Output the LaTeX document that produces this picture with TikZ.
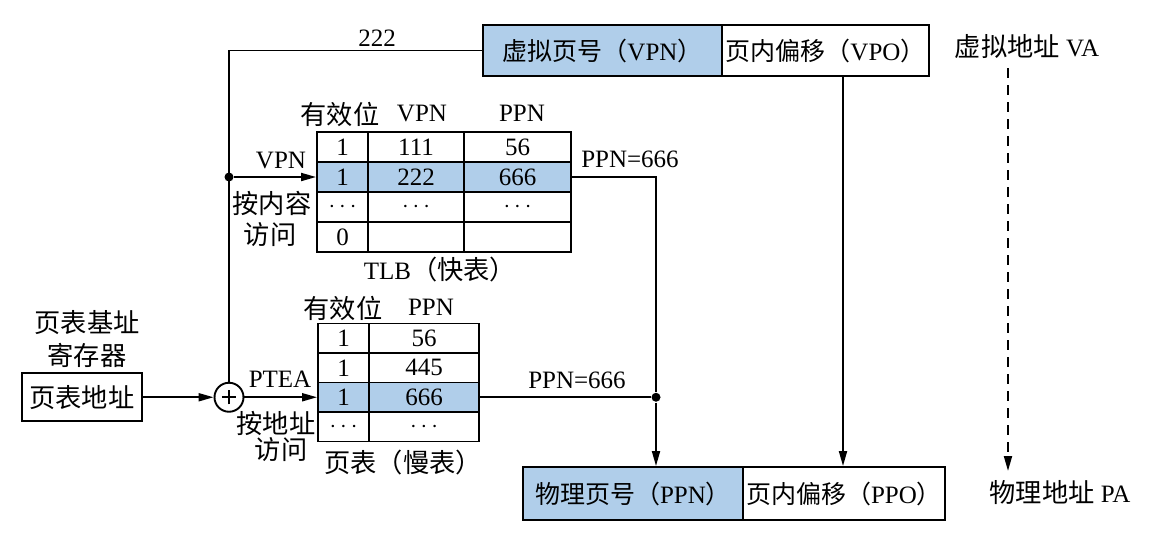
\documentclass[tikz,border=0pt]{standalone}
\usepackage{fontspec}
\setmainfont{Liberation Serif}
\newfontfamily\cjk[Scale=1.05]{Noto Sans CJK SC}
\newfontfamily\cjkb{Noto Sans CJK SC}
\newcommand\zh[1]{{\cjk #1}}
\newcommand\zb[1]{{\cjkb #1}}
\newcommand\dotsx{$\cdots$}
\usetikzlibrary{arrows.meta}
\definecolor{hl}{RGB}{176,206,234}
\begin{document}
\begin{tikzpicture}[x=0.5pt,y=-0.5pt,
  font=\fontsize{12.5}{15}\selectfont,
  line width=0.95pt,
  arr/.style={-{Triangle[length=7.5pt,width=4pt]}},
  cell/.style={draw, inner sep=0pt, anchor=center},
  trow/.style={minimum height=15pt},
  prow/.style={minimum height=14.75pt},
  wa/.style={minimum width=25.5pt},
  wb/.style={minimum width=48pt},
  wc/.style={minimum width=53.5pt},
  wd/.style={minimum width=55pt},
  hlc/.style={fill=hl},
  lab/.style={inner sep=0pt, anchor=center},
  addr/.style={draw, inner sep=0pt, minimum height=25.5pt, font=\fontsize{12.5}{15}\selectfont},
  jdot/.style={fill, circle, inner sep=0pt, minimum size=4.5pt}
]
\useasboundingbox (0,0) rectangle (1174,532);

% virtual address
\node[addr, fill=hl, minimum width=119.5pt] (vpn) at (602.5,50.5) {\zb{虚拟页号（}VPN\zb{）}};
\node[addr, minimum width=103.5pt] (vpo) at (825.5,50.5) {\zb{页内偏移（}VPO\zb{）}};
\node[lab] (valab) at (1027,47) {\zh{虚拟地址} VA};

% physical address
\node[addr, fill=hl, minimum width=110pt, minimum height=26.5pt] (ppn) at (633,493.5) {\zb{物理页号（}PPN\zb{）}};
\node[addr, minimum width=101pt, minimum height=26.5pt] (ppo) at (844,493.5) {\zb{页内偏移（}PPO\zb{）}};
\node[lab] (palab) at (1060,493) {\zh{物理地址} PA};

% TLB
\node[lab] (th1) at (340,114) {\zh{有效位}};
\node[lab] (th2) at (422,113) {VPN};
\node[lab] (th3) at (522,113) {PPN};
\node[cell,trow,wa] (t11) at (342.5,147) {1};
\node[cell,trow,wb] (t12) at (416,147) {111};
\node[cell,trow,wc] (t13) at (517.5,147) {56};
\node[cell,trow,wa,hlc] (t21) at (342.5,177) {1};
\node[cell,trow,wb,hlc] (t22) at (416,177) {222};
\node[cell,trow,wc,hlc] (t23) at (517.5,177) {666};
\node[cell,trow,wa] (t31) at (342.5,207) {\dotsx};
\node[cell,trow,wb] (t32) at (416,207) {\dotsx};
\node[cell,trow,wc] (t33) at (517.5,207) {\dotsx};
\node[cell,trow,wa] (t41) at (342.5,237) {0};
\node[cell,trow,wb] (t42) at (416,237) {};
\node[cell,trow,wc] (t43) at (517.5,237) {};
\node[lab] (tlbname) at (440,270) {TLB\zh{（快表）}};

% page table
\node[lab] (ph1) at (343,308) {\zh{有效位}};
\node[lab] (ph2) at (431,307) {PPN};
\node[cell,prow,wa] (p11) at (343.5,338.25) {1};
\node[cell,prow,wd] (p12) at (424,338.25) {56};
\node[cell,prow,wa] (p21) at (343.5,367.75) {1};
\node[cell,prow,wd] (p22) at (424,367.75) {445};
\node[cell,prow,wa,hlc] (p31) at (343.5,397.25) {1};
\node[cell,prow,wd,hlc] (p32) at (424,397.25) {666};
\node[cell,prow,wa] (p41) at (343.5,426.75) {\dotsx};
\node[cell,prow,wd] (p42) at (424,426.75) {\dotsx};
\node[lab] (ptname) at (403,463) {\zh{页表（慢表）}};

% page table base register
\node[lab] (rl1) at (87,323) {\zh{页表基址}};
\node[lab] (rl2) at (87,355) {\zh{寄存器}};
\node[draw, inner sep=0pt, minimum width=60pt, minimum height=24pt] (reg) at (82,397.25) {\zh{页表地址}};

% adder
\node[draw, circle, inner sep=0pt, minimum size=14.5pt,
  path picture={\draw[line width=0.8pt] ([xshift=-3.6pt]path picture bounding box.center) -- ([xshift=3.6pt]path picture bounding box.center)
   ([yshift=-3.6pt]path picture bounding box.center) -- ([yshift=3.6pt]path picture bounding box.center);}] (plus) at (229,397.25) {};

% labels
\node[lab] (l222) at (377,38) {222};
\node[lab] (lvpn) at (281,160) {VPN};
\node[lab] (lk1) at (272,203) {\zh{按内容}};
\node[lab] (lk2) at (270,235) {\zh{访问}};
\node[lab] (lptea) at (280,379) {PTEA};
\node[lab] (la1) at (276,423) {\zh{按地址}};
\node[lab] (la2) at (281,450) {\zh{访问}};
\node[lab] (lppn1) at (630,159) {PPN=666};
\node[lab] (lppn2) at (577,380) {PPN=666};

% junctions
\node[jdot] (j1) at (229,177) {};
\node[jdot] (j2) at (656,397.25) {};
\coordinate (vx) at (843,0);
\coordinate (d1) at (1008,68);
\coordinate (d2) at (1008,471);

% connectors
\draw (vpn.west) -| (plus.north);
\draw[arr] (j1) -- (t21.west);
\draw[arr] (reg.east) -- (plus.west);
\draw[arr] (plus.east) -- (p31.west);
\draw (t23.east) -| (j2);
\draw (p32.east) -- (j2);
\draw[arr] (j2) -- (j2 |- ppn.north);
\draw[arr] (vx |- vpo.south) -- (vx |- ppo.north);
\draw[arr, dash pattern=on 5pt off 3.5pt] (d1) -- (d2);
\end{tikzpicture}
\end{document}
